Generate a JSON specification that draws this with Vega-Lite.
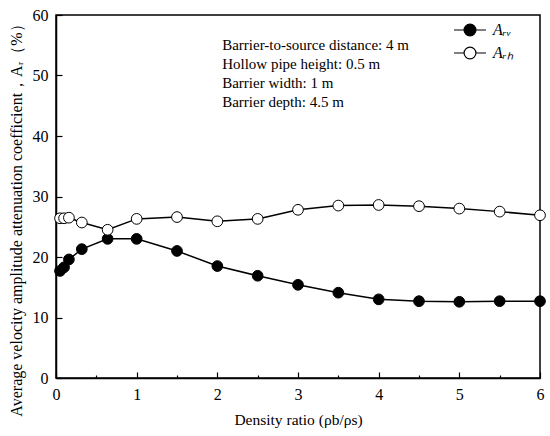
{
  "$schema": "https://vega.github.io/schema/vega-lite/v6.json",
  "width": 484,
  "height": 363,
  "autosize": {"type": "none"},
  "padding": {"left": 56, "top": 15, "right": 10, "bottom": 58},
  "background": "white",
  "config": {
    "font": "Liberation Serif",
    "view": {"stroke": "black", "strokeWidth": 1.5},
    "axis": {
      "labelFont": "Liberation Serif",
      "titleFont": "Liberation Serif",
      "labelFontSize": 16,
      "titleFontSize": 15.5,
      "titleFontWeight": "normal",
      "labelColor": "black",
      "titleColor": "black",
      "domainColor": "black",
      "domainWidth": 1.5,
      "tickColor": "black",
      "tickWidth": 1.2,
      "labelFlush": false,
      "grid": false
    }
  },
  "datasets": {
    "curves": [
      {"ratio": 0.05, "coef": 17.7, "series": "Arv"},
      {"ratio": 0.1, "coef": 18.3, "series": "Arv"},
      {"ratio": 0.16, "coef": 19.6, "series": "Arv"},
      {"ratio": 0.32, "coef": 21.3, "series": "Arv"},
      {"ratio": 0.64, "coef": 23.0, "series": "Arv"},
      {"ratio": 1.0, "coef": 23.0, "series": "Arv"},
      {"ratio": 1.5, "coef": 21.0, "series": "Arv"},
      {"ratio": 2.0, "coef": 18.5, "series": "Arv"},
      {"ratio": 2.5, "coef": 16.9, "series": "Arv"},
      {"ratio": 3.0, "coef": 15.4, "series": "Arv"},
      {"ratio": 3.5, "coef": 14.1, "series": "Arv"},
      {"ratio": 4.0, "coef": 13.0, "series": "Arv"},
      {"ratio": 4.5, "coef": 12.7, "series": "Arv"},
      {"ratio": 5.0, "coef": 12.6, "series": "Arv"},
      {"ratio": 5.5, "coef": 12.7, "series": "Arv"},
      {"ratio": 6.0, "coef": 12.7, "series": "Arv"},
      {"ratio": 0.05, "coef": 26.4, "series": "Arh"},
      {"ratio": 0.1, "coef": 26.4, "series": "Arh"},
      {"ratio": 0.16, "coef": 26.5, "series": "Arh"},
      {"ratio": 0.32, "coef": 25.7, "series": "Arh"},
      {"ratio": 0.64, "coef": 24.5, "series": "Arh"},
      {"ratio": 1.0, "coef": 26.3, "series": "Arh"},
      {"ratio": 1.5, "coef": 26.6, "series": "Arh"},
      {"ratio": 2.0, "coef": 25.9, "series": "Arh"},
      {"ratio": 2.5, "coef": 26.3, "series": "Arh"},
      {"ratio": 3.0, "coef": 27.8, "series": "Arh"},
      {"ratio": 3.5, "coef": 28.5, "series": "Arh"},
      {"ratio": 4.0, "coef": 28.6, "series": "Arh"},
      {"ratio": 4.5, "coef": 28.4, "series": "Arh"},
      {"ratio": 5.0, "coef": 28.0, "series": "Arh"},
      {"ratio": 5.5, "coef": 27.5, "series": "Arh"},
      {"ratio": 6.0, "coef": 26.9, "series": "Arh"}
    ],
    "notes": [
      {"note": "Barrier-to-source distance: 4 m"}
    ]
  },
  "layer": [
    {
      "data": {"name": "curves"},
      "mark": {"type": "line", "color": "black", "strokeWidth": 1.5},
      "encoding": {
        "x": {
          "field": "ratio",
          "type": "quantitative",
          "scale": {"domain": [0, 6], "nice": false},
          "axis": {
            "title": "Density ratio (ρb/ρs)",
            "values": [0, 0.5, 1, 1.5, 2, 2.5, 3, 3.5, 4, 4.5, 5, 5.5, 6],
            "labelExpr": "datum.value % 1 ? '' : format(datum.value, 'd')",
            "tickSize": {"condition": {"test": "datum.value % 1", "value": -3}, "value": -6},
            "labelPadding": {"condition": {"test": "datum.value % 1", "value": 11}, "value": 14},
            "titlePadding": 10
          }
        },
        "y": {
          "field": "coef",
          "type": "quantitative",
          "scale": {"domain": [0, 60], "nice": false},
          "axis": {
            "title": "Average velocity amplitude attenuation coefficient，Aᵣ（%）",
            "titleFontSize": 16,
            "titleY": 201,
            "values": [0, 5, 10, 15, 20, 25, 30, 35, 40, 45, 50, 55, 60],
            "labelExpr": "datum.value % 10 ? '' : format(datum.value, 'd')",
            "tickSize": {"condition": {"test": "datum.value % 10", "value": -3}, "value": -6},
            "labelPadding": {"condition": {"test": "datum.value % 10", "value": 11}, "value": 14},
            "titlePadding": 8
          }
        },
        "detail": {"field": "series"}
      }
    },
    {
      "data": {"name": "curves"},
      "mark": {"type": "point", "filled": false, "shape": "circle", "size": 115, "stroke": "black", "strokeWidth": 1, "opacity": 1},
      "encoding": {
        "x": {"field": "ratio", "type": "quantitative"},
        "y": {"field": "coef", "type": "quantitative"},
        "fill": {
          "field": "series",
          "scale": {"domain": ["Arv", "Arh"], "range": ["black", "white"]},
          "legend": {
            "title": null,
            "orient": "none",
            "legendX": 406,
            "legendY": 7,
            "labelExpr": "datum.value == 'Arv' ? 'Aᵣᵥ' : 'Aᵣₕ'",
            "labelFont": "Liberation Serif",
            "labelFontStyle": "italic",
            "labelFontSize": 16,
            "labelColor": "black",
            "labelOffset": 15,
            "symbolType": "M-2.7,0H-1M1,0H2.7M1,0A1,1 0 1,1 -1,0A1,1 0 1,1 1,0Z",
            "symbolSize": 140,
            "symbolStrokeColor": "black",
            "symbolStrokeWidth": 1.2,
            "rowPadding": 5
          }
        }
      }
    },
    {
      "data": {"name": "notes"},
      "mark": {"type": "text", "align": "left", "baseline": "middle", "fontSize": 15, "lineHeight": 19, "font": "Liberation Serif", "fill": "black"},
      "encoding": {
        "x": {"datum": 2.06, "type": "quantitative"},
        "y": {"datum": 55, "type": "quantitative"},
        "text": {"value": ["Barrier-to-source distance: 4 m", "Hollow pipe height: 0.5 m", "Barrier width: 1 m", "Barrier depth: 4.5 m"]}
      }
    }
  ]
}
